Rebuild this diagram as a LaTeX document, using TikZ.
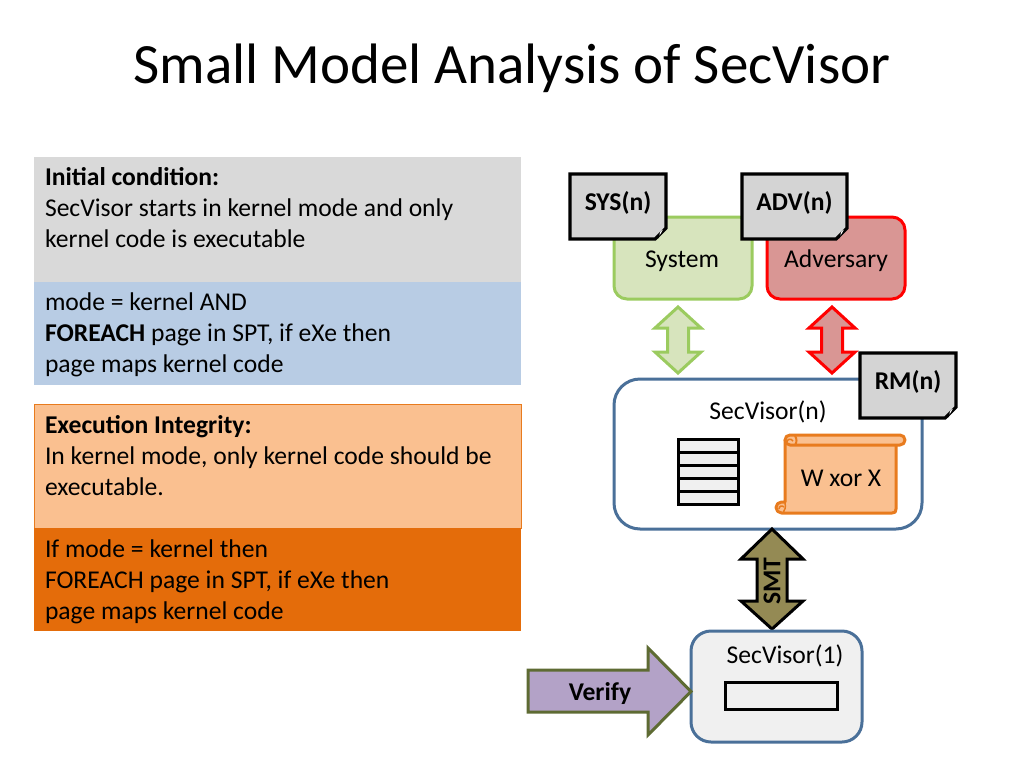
\documentclass[tikz,border=0pt]{standalone}
\usepackage{fontspec}
\setmainfont{Carlito}
\tikzset{x=1pt,y=-1pt,
  every node/.style={inner sep=0pt,outer sep=0pt,text=black},
  panel/.style={rectangle,anchor=north west,minimum width=487pt},
  body/.style={anchor=north west,align=left,font=\fontsize{25.6}{31}\selectfont},
  lab/.style={font=\fontsize{25.6}{31}\selectfont},
  blab/.style={font=\fontsize{25.6}{31}\selectfont\bfseries},
  greenbox/.style={draw=grnline,fill=grnfill,line width=3pt,rounded corners=13pt},
  redbox/.style={draw=redline,fill=redfill,line width=3pt,rounded corners=13pt},
  docline/.style={draw=black,fill=docfill,line width=3.2pt,line join=miter},
  cellbox/.style={draw=black,fill=cellfill,line width=3pt},
  scrollline/.style={draw=orgline,fill=orgfill,line width=3pt,line join=round},
}
\definecolor{grnline}{HTML}{9BCB5F}
\definecolor{grnfill}{HTML}{D7E4BD}
\definecolor{redline}{HTML}{FF0000}
\definecolor{redfill}{HTML}{D99694}
\definecolor{docfill}{HTML}{D4D4D4}
\definecolor{cellfill}{HTML}{F0F0F0}
\definecolor{blueline}{HTML}{4A7099}
\definecolor{orgline}{HTML}{E87B1E}
\definecolor{orgfill}{HTML}{FAC090}
\definecolor{orgdark}{HTML}{E46C0A}
\definecolor{panelgray}{HTML}{D9D9D9}
\definecolor{panelblue}{HTML}{B8CCE4}
\definecolor{olive}{HTML}{948A54}
\definecolor{violet}{HTML}{B3A2C7}
\definecolor{violetline}{HTML}{5E6B33}
\newcommand{\docshape}[6]{%
  \draw[docline] (#2,#3) -- (#4,#3) -- (#4,#5-11) -- (#4-11,#5) -- (#2,#5) -- cycle;
  \fill[black] (#4,#5-11) -- (#4-11,#5) -- (#4-7,#5-1) .. controls (#4-8,#5-6) and (#4-6,#5-9) .. cycle;
  \fill[white] (#4-3,#5-9.5) .. controls (#4-6,#5-8) and (#4-7,#5-6) .. (#4-6.5,#5-3.5) -- cycle;
  \node[blab] (#1) at ({(#2+#4)/2},{(#3+#5)/2-4}) {#6};
}
\newcommand{\dblarrow}[7]{% cx top headtop headbottom bottom halfshaft halfhead
  (#1,#2) -- (#1+#7,#3) -- (#1+#6,#3) -- (#1+#6,#4) -- (#1+#7,#4) -- (#1,#5) -- (#1-#7,#4) -- (#1-#6,#4) -- (#1-#6,#3) -- (#1-#7,#3) -- cycle
}
\begin{document}
\begin{tikzpicture}
\useasboundingbox (0,0) rectangle (1024,768);
\fill[white] (0,0) rectangle (1024,768);
\node[font=\fontsize{57}{62}\selectfont] (title) at (512,68) {Small Model Analysis of SecVisor};

% left panels
\node[panel,fill=panelgray,minimum height=125pt] (p1) at (34,157) {};
\node[panel,fill=panelblue,minimum height=103pt] (p2) at (34,282) {};
\node[panel,fill=orgfill,draw=orgline,line width=0.5pt,minimum height=124pt] (p3) at (34,404) {};
\node[panel,fill=orgdark,minimum height=103pt] (p4) at (34,528) {};
\node[body] (t1) at (45,167) {\textbf{Initial condition:}\\SecVisor starts in kernel mode and only\\kernel code is executable};
\node[body] (t2) at (45,293) {mode = kernel AND\\\textbf{FOREACH} page in SPT, if eXe then\\page maps kernel code};
\node[body] (t3) at (45,415) {\textbf{Execution Integrity:}\\In kernel mode, only kernel code should be\\executable.};
\node[body] (t4) at (45,540) {If mode = kernel then\\FOREACH page in SPT, if eXe then\\page maps kernel code};

% system / adversary
\draw[greenbox] (614,217) rectangle (752,299);
\node[lab] (sys) at (682,261) {System};
\draw[redbox] (767,217) rectangle (905,299);
\node[lab] (adv) at (836,261) {Adversary};
\docshape{sysn}{570}{174}{666}{239}{SYS(n)}
\docshape{advn}{742}{174}{847}{239}{ADV(n)}

% block arrows
\draw[draw=grnline,fill=grnfill,line width=3pt,line join=miter] \dblarrow{678}{307}{328}{352}{373}{10.5}{23};
\draw[draw=redline,fill=redfill,line width=3pt,line join=miter] \dblarrow{832}{307}{328}{352}{373}{10.5}{23};

% SecVisor(n)
\draw[draw=blueline,fill=white,line width=3pt,rounded corners=26pt] (614,379) rectangle (922,529);
\node[lab] (secn) at (768,411.5) {SecVisor(n)};
\foreach \y in {439,452,465,478,491}{
  \draw[cellbox] (678,\y) rectangle (738,\y+13);
}
% scroll body with bottom curl
\draw[scrollline]
  (785,440) -- (785,502) -- (781.5,502) arc[start angle=90,end angle=270,radius=5.5pt]
  -- (892,513) .. controls (895,513) and (896,512) .. (896,509) -- (896,440) -- cycle;
% scroll top roll
\draw[scrollline]
  (790,435) -- (900,435) arc[start angle=90,end angle=-90,radius=5pt]
  -- (790,445) arc[start angle=270,end angle=90,radius=5pt] -- cycle;
\draw[draw=orgline,line width=2pt] (795,436) .. controls (797,439) and (797,442) .. (795,445);
\draw[draw=orgline,line width=1.5pt] (793,441) .. controls (791,438) and (787,439) .. (787,442);
\draw[draw=orgline,line width=1.5pt] (785,503) .. controls (786,507) and (785,510) .. (783,513);
\draw[draw=orgline,line width=1.5pt] (784,507) .. controls (782,505) and (779,506) .. (779,509);
\node[lab] (wx) at (841,478) {W xor X};
\docshape{rmn}{860}{353}{956}{418}{RM(n)}

% SMT arrow
\draw[draw=black,fill=olive,line width=3pt,line join=miter] \dblarrow{772}{529}{559}{601}{629}{15}{31};
\node[font=\fontsize{25.6}{30}\selectfont\bfseries,rotate=90] (smt) at (772,581) {SMT};

% SecVisor(1)
\draw[draw=blueline,fill=cellfill,line width=3pt,rounded corners=20pt] (691,631) rectangle (862,742);
\node[lab] (sec1) at (785,655.5) {SecVisor(1)};
\draw[cellbox] (725,682) rectangle (837,709);

% Verify
\draw[draw=violetline,fill=violet,line width=3pt,line join=miter]
  (528,670) -- (648,670) -- (648,648) -- (691,691.5) -- (648,735) -- (648,712) -- (528,712) -- cycle;
\node[blab] (verify) at (600,694) {Verify};
\end{tikzpicture}
\end{document}
